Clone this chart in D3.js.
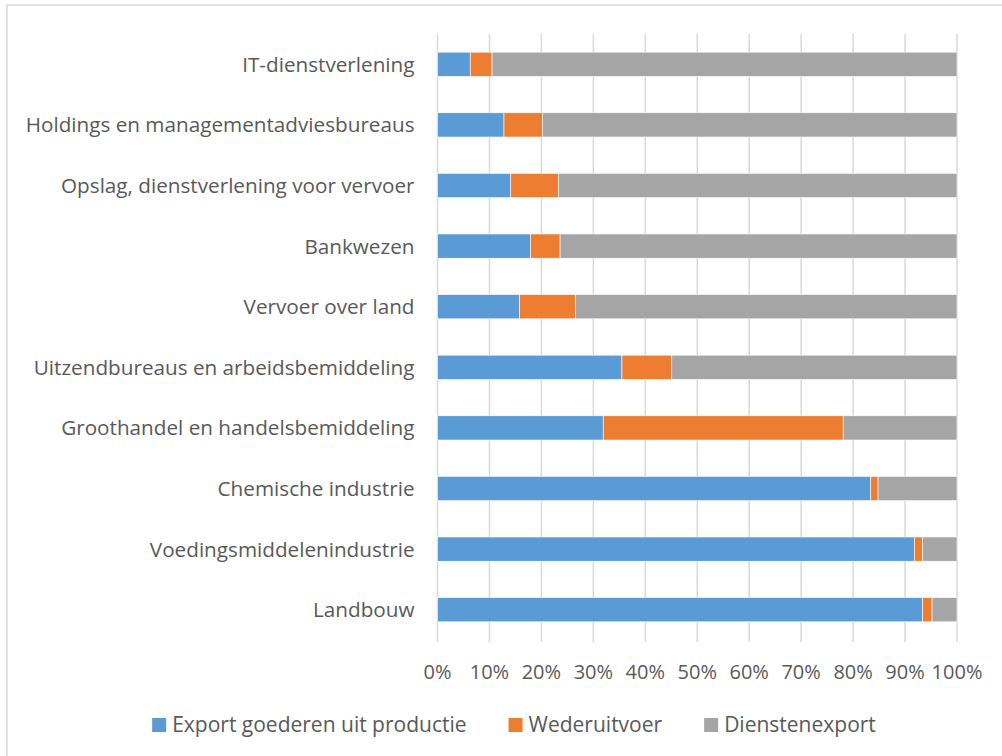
<!DOCTYPE html>
<html>
<head>
<meta charset="utf-8">
<script src="https://cdn.jsdelivr.net/npm/d3@7"></script>
<style>
  body { margin: 0; background: #fff; }
  svg text { font-family: "Open Sans", "Noto Sans", sans-serif; fill: #595959; }
</style>
</head>
<body>
<div id="chart"></div>
<script>
// categories, top to bottom
var categories = ["IT-dienstverlening", "Holdings en managementadviesbureaus",
  "Opslag, dienstverlening voor vervoer", "Bankwezen", "Vervoer over land",
  "Uitzendbureaus en arbeidsbemiddeling", "Groothandel en handelsbemiddeling",
  "Chemische industrie", "Voedingsmiddelenindustrie", "Landbouw"]

var seriesNames = ["Export goederen uit productie", "Wederuitvoer", "Dienstenexport"]

// shares in %
var exportGoederen = [6.3, 12.8, 14.1, 17.9, 15.8, 35.5, 31.9, 83.4, 91.8, 93.4]
var wederuitvoer   = [4.2, 7.4, 9.2, 5.7, 10.8, 9.6, 46.2, 1.4, 1.6, 1.8]
var dienstenexport = [89.5, 79.8, 76.7, 76.4, 73.4, 54.9, 21.9, 15.2, 6.6, 4.8]

var tickValues = [0, 0.1, 0.2, 0.3, 0.4, 0.5, 0.6, 0.7, 0.8, 0.9, 1]

var colors = ["#5B9BD5", "#ED7D31", "#A5A5A5"]

var width = 1002, height = 756
// plot area (note: "top" is reserved on window, so use other names)
var plotLeft = 437.5, plotRight = 957, plotTop = 34, plotBottom = 640

var svg = d3.select("#chart").append("svg")
  .attr("width", width)
  .attr("height", height)

// chart border
svg.append("rect")
  .attr("x", 7).attr("y", 5)
  .attr("width", width + 10).attr("height", height + 10)
  .attr("fill", "none")
  .attr("stroke", "#d9d9d9")
  .attr("stroke-width", 1.5)

var rows = categories.map(function(c, i) {
  return {cat: c, a: exportGoederen[i], b: wederuitvoer[i], c: dienstenexport[i]}
})

var stack = d3.stack().keys(["a", "b", "c"]).offset(d3.stackOffsetExpand)
var layers = stack(rows)

var x = d3.scaleLinear().domain([0, 1]).range([plotLeft, plotRight])
var y = d3.scaleBand().domain(categories).range([plotTop, plotBottom])
  .paddingInner(0.6).paddingOuter(0.3)

// gridlines
svg.append("g").selectAll("line")
  .data(tickValues)
  .enter().append("line")
  .attr("x1", function(d) { return x(d) })
  .attr("x2", function(d) { return x(d) })
  .attr("y1", plotTop)
  .attr("y2", plotBottom + 2)
  .attr("stroke", "#d9d9d9")
  .attr("stroke-width", 1.5)

// bars
svg.append("g").selectAll("g")
  .data(layers)
  .enter().append("g")
  .attr("fill", function(d, i) { return colors[i] })
  .selectAll("rect")
  .data(function(d) { return d })
  .enter().append("rect")
  .attr("x", function(d) { return x(d[0]) })
  .attr("width", function(d) { return x(d[1]) - x(d[0]) })
  .attr("y", function(d) { return y(d.data.cat) })
  .attr("height", y.bandwidth())
  .attr("stroke", "#fff")
  .attr("stroke-width", 0.6)

// category labels
svg.append("g").selectAll("text")
  .data(categories)
  .enter().append("text")
  .attr("x", plotLeft - 23)
  .attr("y", function(d) { return y(d) + y.bandwidth() / 2 })
  .attr("dy", "0.36em")
  .attr("text-anchor", "end")
  .style("font-size", "20.7px")
  .text(function(d) { return d })

// x tick labels
svg.append("g").selectAll("text")
  .data(tickValues)
  .enter().append("text")
  .attr("x", function(d) { return x(d) })
  .attr("y", 679)
  .attr("text-anchor", "middle")
  .style("font-size", "20px")
  .text(d3.format(".0%"))

// legend
var legend = svg.append("g")
var items = legend.selectAll("g")
  .data(seriesNames)
  .enter().append("g")
items.append("rect")
  .attr("width", 14).attr("height", 14)
  .attr("y", 718)
  .attr("fill", function(d, i) { return colors[i] })
items.append("text")
  .attr("x", 20)
  .attr("y", 732)
  .style("font-size", "21px")
  .text(function(d) { return d })

var widths = []
items.each(function() { widths.push(20 + this.querySelector("text").getComputedTextLength()) })
var gap = 42
var total = d3.sum(widths) + gap * (widths.length - 1)
var pos = 514 - total / 2
items.attr("transform", function(d, i) {
  var p = pos
  pos += widths[i] + gap
  return "translate(" + p + ",0)"
})
</script>
</body>
</html>
